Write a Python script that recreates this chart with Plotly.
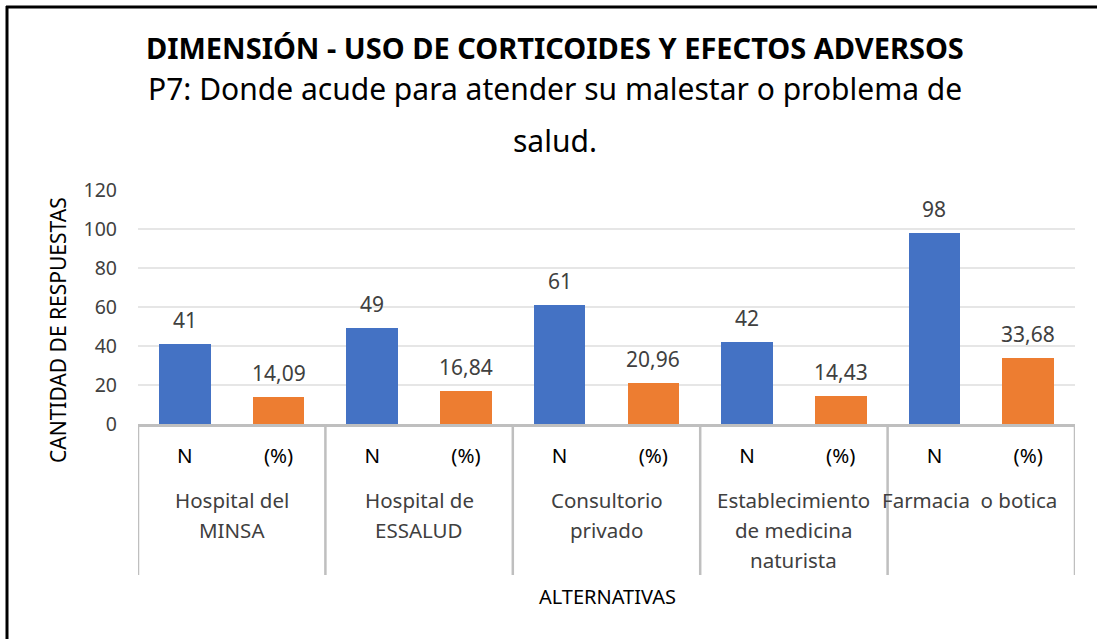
import plotly.graph_objects as go

# ---- data ----
groups = [["Hospital del", "MINSA"], ["Hospital de", "ESSALUD"], ["Consultorio", "privado"],
          ["Establecimiento", "de medicina", "naturista"], ["Farmacia  o botica"]]
subs = ["N", "(%)"]
n_values = [41, 49, 61, 42, 98]
pct_values = [14.09, 16.84, 20.96, 14.43, 33.68]
y_ticks = [0, 20, 40, 60, 80, 100, 120]

title = "DIMENSIÓN - USO DE CORTICOIDES Y EFECTOS ADVERSOS"
subtitle1 = "P7: Donde acude para atender su malestar o problema de"
subtitle2 = "salud."
x_title = "ALTERNATIVAS"
y_title = "CANTIDAD DE RESPUESTAS"

BLUE = "#4472C4"
ORANGE = "#ED7D31"
TXT = "#404040"
FONT = "Noto Sans"

# layout geometry (pixels)
W, H = 1097, 639
L, R, T, B = 138, 22, 190, 215
PW, PH = W - L - R, H - T - B

def px_x(px):
    return (px - L) / PW

def px_y(py):
    return (H - B - py) / PH

ng = len(groups)
x_n = [2 * i for i in range(ng)]
x_p = [2 * i + 1 for i in range(ng)]

fig = go.Figure()
fig.add_trace(go.Bar(x=x_n, y=n_values, marker=dict(color=BLUE, line=dict(width=0)),
                     width=0.55, name="N", showlegend=False))
fig.add_trace(go.Bar(x=x_p, y=pct_values, marker=dict(color=ORANGE, line=dict(width=0)),
                     width=0.55, name="(%)", showlegend=False))

annotations = []
# data labels
def fmt(v):
    if float(v).is_integer():
        return str(int(v))
    return f"{v:.2f}".replace(".", ",")

for xs, vals in ((x_n, n_values), (x_p, pct_values)):
    for x, v in zip(xs, vals):
        annotations.append(dict(x=x, y=v, xref="x", yref="y", text=fmt(v), showarrow=False,
                                yanchor="bottom", yshift=8, font=dict(size=21, color=TXT, family=FONT)))

# group labels (multi-level axis)
for i, lines in enumerate(groups):
    for j, line in enumerate(lines):
        annotations.append(dict(x=2 * i + 0.5, y=px_y(500 + 30 * j), xref="x", yref="paper",
                                text=line, showarrow=False, yanchor="middle", xanchor="center",
                                xshift=-12 if i == ng - 1 else 0,
                                font=dict(size=20.5, color=TXT, family=FONT)))

# titles
annotations.append(dict(x=px_x(555), y=px_y(47), xref="paper", yref="paper", text="<b>" + title + "</b>",
                        showarrow=False, yanchor="middle", font=dict(size=29, color="#000000", family=FONT)))
annotations.append(dict(x=px_x(555), y=px_y(88), xref="paper", yref="paper", text=subtitle1,
                        showarrow=False, yanchor="middle", font=dict(size=30, color="#000000", family=FONT)))
annotations.append(dict(x=px_x(555), y=px_y(140), xref="paper", yref="paper", text=subtitle2,
                        showarrow=False, yanchor="middle", font=dict(size=30, color="#000000", family=FONT)))
annotations.append(dict(x=px_x(607), y=px_y(596), xref="paper", yref="paper", text=x_title,
                        showarrow=False, yanchor="middle", font=dict(size=20, color="#000000", family=FONT)))
annotations.append(dict(x=px_x(58), y=px_y(330), xref="paper", yref="paper", text=y_title, textangle=-90,
                        showarrow=False, yanchor="middle", xanchor="center",
                        font=dict(size=21, color="#000000", family=FONT)))

shapes = []
# dividers between groups
for k in range(ng + 1):
    shapes.append(dict(type="line", xref="x", yref="paper", x0=2 * k - 0.5, x1=2 * k - 0.5,
                       y0=0, y1=px_y(575), line=dict(color="#BFBFBF", width=2.5)))
# frame (left and top edges)
shapes.append(dict(type="line", xref="paper", yref="paper", x0=px_x(7), x1=px_x(7), y0=px_y(6), y1=px_y(H + 5),
                   line=dict(color="#000000", width=3)))
shapes.append(dict(type="line", xref="paper", yref="paper", x0=px_x(6), x1=px_x(W + 5), y0=px_y(7), y1=px_y(7),
                   line=dict(color="#000000", width=3)))

fig.update_layout(
    width=W, height=H,
    margin=dict(l=L, r=R, t=T, b=B, pad=0),
    paper_bgcolor="white", plot_bgcolor="white",
    font=dict(family=FONT, color=TXT),
    bargap=0,
    annotations=annotations,
    shapes=shapes,
    xaxis=dict(range=[-0.5, 2 * ng - 0.5], tickvals=list(range(2 * ng)), ticktext=subs * ng,
               showgrid=False, zeroline=False, showline=True, linecolor="#BFBFBF", linewidth=2.5,
               ticks="", tickfont=dict(size=20.5, color="#000000", family=FONT), ticklabelstandoff=12,
               fixedrange=True),
    yaxis=dict(range=[0, 120], tickvals=y_ticks, showgrid=True, gridcolor="#E6E6E6", gridwidth=2,
               zeroline=False, showline=False, ticks="", tickfont=dict(size=19.5, color=TXT, family=FONT),
               ticklabelstandoff=20, fixedrange=True),
)

fig.write_html("out.html", config={"displayModeBar": False},
               post_script="document.body.style.margin='0';document.body.style.overflow='hidden';")
